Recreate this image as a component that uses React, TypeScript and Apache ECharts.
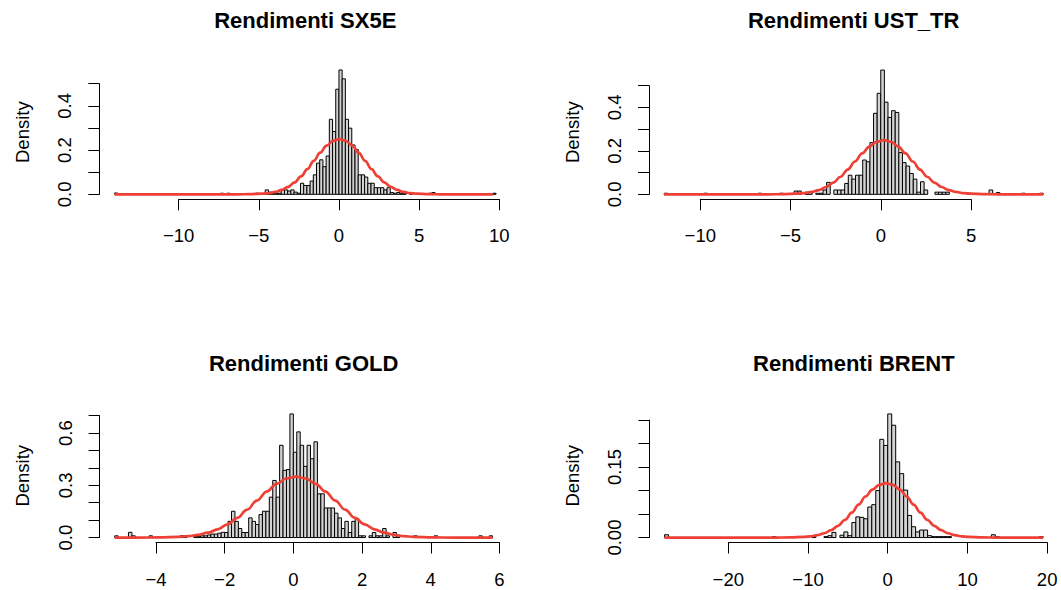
import React, { useEffect, useRef } from 'react';
import * as echarts from 'echarts';

const FONT = '"Liberation Sans", Arial, Helvetica, sans-serif';
const RED = '#EE4035';
const FILL = '#D3D3D3';
const LABEL_SIZE = 18.5;
const TITLE_SIZE = 22;

// ---- Histogram bins: [left break, density] (non-empty bins only) ----
const sx5eHist: [number, number][] = [
  [-14.0, 0.006], [-7.4, 0.005], [-7.0, 0.005], [-5.2, 0.005],
  [-4.6, 0.02], [-4.4, 0.01], [-4.2, 0.005], [-4.0, 0.005], [-3.8, 0.005],
  [-3.6, 0.02], [-3.4, 0.02], [-3.2, 0.015], [-3.0, 0.02], [-2.8, 0.01], [-2.6, 0.005],
  [-2.4, 0.05], [-2.2, 0.04], [-2.0, 0.04], [-1.8, 0.06], [-1.6, 0.088], [-1.4, 0.141],
  [-1.2, 0.156], [-1.0, 0.125], [-0.8, 0.173], [-0.6, 0.339], [-0.4, 0.284], [-0.2, 0.475],
  [0.0, 0.562], [0.2, 0.522], [0.4, 0.339], [0.6, 0.299], [0.8, 0.223], [1.0, 0.203],
  [1.2, 0.088], [1.4, 0.088], [1.6, 0.078], [1.8, 0.05], [2.0, 0.05], [2.2, 0.03],
  [2.4, 0.03], [2.6, 0.03], [2.8, 0.02], [3.0, 0.03], [3.2, 0.008], [3.4, 0.005],
  [3.6, 0.008], [3.8, 0.005], [4.0, 0.005], [4.4, 0.005], [5.6, 0.005], [5.8, 0.008],
  [9.6, 0.005],
];

const ustHist: [number, number][] = [
  [-12.0, 0.005], [-9.8, 0.005], [-6.8, 0.005], [-5.6, 0.005], [-4.8, 0.015], [-4.6, 0.015],
  [-4.2, 0.01], [-4.0, 0.01], [-3.6, 0.005], [-3.4, 0.005], [-3.2, 0.02], [-3.0, 0.055],
  [-2.6, 0.02], [-2.4, 0.02], [-2.2, 0.02], [-2.0, 0.05], [-1.8, 0.088], [-1.6, 0.07],
  [-1.4, 0.088], [-1.2, 0.088], [-1.0, 0.158], [-0.8, 0.15], [-0.6, 0.238], [-0.4, 0.373],
  [-0.2, 0.465], [0.0, 0.572], [0.2, 0.424], [0.4, 0.354], [0.6, 0.385], [0.8, 0.377],
  [1.0, 0.192], [1.2, 0.146], [1.4, 0.13], [1.6, 0.096], [1.8, 0.07], [2.0, 0.01],
  [2.2, 0.058], [2.4, 0.02], [3.0, 0.01], [3.2, 0.01], [3.4, 0.01], [3.6, 0.01],
  [4.8, 0.005], [6.0, 0.02], [6.4, 0.008], [7.8, 0.005], [8.8, 0.005],
];

const goldHist: [number, number][] = [
  [-5.2, 0.01], [-4.8, 0.03], [-4.7, 0.01], [-4.2, 0.01], [-3.3, 0.01], [-3.2, 0.01],
  [-2.9, 0.005], [-2.8, 0.005], [-2.7, 0.01], [-2.6, 0.01], [-2.5, 0.015], [-2.4, 0.02],
  [-2.3, 0.02], [-2.2, 0.025], [-2.1, 0.03], [-2.0, 0.029], [-1.9, 0.093], [-1.8, 0.151],
  [-1.7, 0.093], [-1.6, 0.052], [-1.5, 0.029], [-1.4, 0.029], [-1.3, 0.113], [-1.2, 0.093],
  [-1.1, 0.075], [-1.0, 0.132], [-0.9, 0.151], [-0.8, 0.151], [-0.7, 0.232], [-0.6, 0.328],
  [-0.5, 0.232], [-0.4, 0.53], [-0.3, 0.386], [-0.2, 0.391], [-0.1, 0.71], [0.0, 0.49],
  [0.1, 0.607], [0.2, 0.53], [0.3, 0.409], [0.4, 0.53], [0.5, 0.453], [0.6, 0.55],
  [0.7, 0.251], [0.8, 0.251], [0.9, 0.17], [1.0, 0.17], [1.1, 0.17], [1.2, 0.14],
  [1.3, 0.113], [1.4, 0.052], [1.5, 0.093], [1.6, 0.029], [1.7, 0.093], [1.8, 0.11],
  [1.9, 0.01], [2.0, 0.01], [2.2, 0.01], [2.3, 0.029], [2.4, 0.01], [2.5, 0.01],
  [2.6, 0.052], [2.7, 0.01], [2.9, 0.029], [3.0, 0.01], [3.5, 0.01], [4.1, 0.01],
  [5.4, 0.01], [5.7, 0.01],
];

const brentHist: [number, number][] = [
  [-28.0, 0.006], [-14.5, 0.002], [-12.0, 0.002], [-9.5, 0.002], [-8.0, 0.002], [-7.5, 0.004],
  [-7.0, 0.011], [-6.0, 0.005], [-5.5, 0.012], [-5.0, 0.004], [-4.5, 0.032], [-4.0, 0.044],
  [-3.5, 0.043], [-3.0, 0.04], [-2.5, 0.065], [-2.0, 0.07], [-1.5, 0.1], [-1.0, 0.209],
  [-0.5, 0.196], [0.0, 0.263], [0.5, 0.239], [1.0, 0.161], [1.5, 0.136], [2.0, 0.101],
  [2.5, 0.047], [3.0, 0.023], [3.5, 0.012], [4.0, 0.016], [4.5, 0.016], [5.0, 0.004],
  [5.5, 0.002], [6.0, 0.002], [6.5, 0.002], [7.0, 0.002], [7.5, 0.002], [11.0, 0.002],
  [13.0, 0.006], [13.5, 0.002], [19.0, 0.002],
];

// ---- Normal density curves: [x, density] points ----
const sx5eCurve: [number, number][] = [
  [-14.0, 0], [-6.37, 0.0001], [-5.57, 0.0005], [-4.77, 0.0028], [-4.37, 0.0057], [-3.97, 0.0109],
  [-3.57, 0.0198], [-3.17, 0.0337], [-2.77, 0.0539], [-2.37, 0.0809], [-1.97, 0.1141],
  [-1.57, 0.1512], [-1.17, 0.1882], [-0.77, 0.22], [-0.37, 0.2416], [0.03, 0.2493],
  [0.43, 0.2416], [0.83, 0.22], [1.23, 0.1882], [1.63, 0.1512], [2.03, 0.1141], [2.43, 0.0809],
  [2.83, 0.0539], [3.23, 0.0337], [3.63, 0.0198], [4.03, 0.0109], [4.43, 0.0057], [4.83, 0.0028],
  [5.63, 0.0005], [6.43, 0.0001], [9.6, 0],
];

const ustCurve: [number, number][] = [
  [-12.0, 0], [-6.23, 0.0001], [-5.43, 0.0005], [-4.63, 0.0028], [-4.23, 0.0057], [-3.83, 0.0109],
  [-3.43, 0.0198], [-3.03, 0.0337], [-2.63, 0.0539], [-2.23, 0.0809], [-1.83, 0.1141],
  [-1.43, 0.1512], [-1.03, 0.1882], [-0.63, 0.22], [-0.23, 0.2416], [0.17, 0.2493],
  [0.57, 0.2416], [0.97, 0.22], [1.37, 0.1882], [1.77, 0.1512], [2.17, 0.1141], [2.57, 0.0809],
  [2.97, 0.0539], [3.37, 0.0337], [3.77, 0.0198], [4.17, 0.0109], [4.57, 0.0057], [4.97, 0.0028],
  [5.77, 0.0005], [6.57, 0.0001], [9.0, 0],
];

const goldCurve: [number, number][] = [
  [-5.2, 0], [-4.48, 0.0001], [-3.91, 0.0008], [-3.34, 0.0039], [-3.055, 0.008], [-2.77, 0.0154],
  [-2.485, 0.0278], [-2.2, 0.0474], [-1.915, 0.0757], [-1.63, 0.1136], [-1.345, 0.1602],
  [-1.06, 0.2122], [-0.775, 0.2641], [-0.49, 0.3088], [-0.205, 0.3391], [0.08, 0.3499],
  [0.365, 0.3391], [0.65, 0.3088], [0.935, 0.2641], [1.22, 0.2122], [1.505, 0.1602],
  [1.79, 0.1136], [2.075, 0.0757], [2.36, 0.0474], [2.645, 0.0278], [2.93, 0.0154],
  [3.215, 0.008], [3.5, 0.0039], [4.07, 0.0008], [4.64, 0.0001], [5.8, 0],
];

const brentCurve: [number, number][] = [
  [-28.0, 0], [-14.0, 0.00004], [-12.275, 0.0003], [-10.55, 0.0013], [-9.69, 0.0026], [-8.825, 0.0051],
  [-7.96, 0.0092], [-7.1, 0.0156], [-6.24, 0.025], [-5.375, 0.0375], [-4.51, 0.0529],
  [-3.65, 0.0701], [-2.79, 0.0873], [-1.925, 0.102], [-1.06, 0.112], [-0.2, 0.1156],
  [0.66, 0.112], [1.525, 0.102], [2.39, 0.0873], [3.25, 0.0701], [4.11, 0.0529],
  [4.975, 0.0375], [5.84, 0.025], [6.7, 0.0156], [7.56, 0.0092], [8.425, 0.0051],
  [9.29, 0.0026], [10.15, 0.0013], [11.875, 0.0003], [13.6, 0.00004], [19.5, 0],
];

// ---- Axis ticks and shown labels ----
const sx5eXTicks = [-10, 10, 5];
const ustXTicks = [-10, 5, 5];
const goldXTicks = [-4, 6, 2];
const brentXTicks = [-20, 20, 10];
const sx5eYTicks = [0, 0.5, 0.1];
const ustYTicks = [0, 0.5, 0.1];
const goldYTicks = [0, 0.7, 0.1];
const brentYTicks = [0, 0.25, 0.05];
const sx5eYLabels = ['0.0', '0.2', '0.4'];
const ustYLabels = ['0.0', '0.2', '0.4'];
const goldYLabels = ['0.0', '0.3', '0.6'];
const brentYLabels = ['0.00', '0.15'];

const panels = [
  { title: 'Rendimenti SX5E', hist: sx5eHist, bw: 0.2, curve: sx5eCurve, xTicks: sx5eXTicks, yTicks: sx5eYTicks, yLabels: sx5eYLabels, digits: 1,
    left: 99.3, top: 65.0, width: 412.0, height: 134.3, titleY: 20 },
  { title: 'Rendimenti UST_TR', hist: ustHist, bw: 0.2, curve: ustCurve, xTicks: ustXTicks, yTicks: ustYTicks, yLabels: ustYLabels, digits: 1,
    left: 649.0, top: 65.1, width: 409.4, height: 134.2, titleY: 20 },
  { title: 'Rendimenti GOLD', hist: goldHist, bw: 0.1, curve: goldCurve, xTicks: goldXTicks, yTicks: goldYTicks, yLabels: goldYLabels, digits: 1,
    left: 99.6, top: 409.0, width: 408.1, height: 133.5, titleY: 363 },
  { title: 'Rendimenti BRENT', hist: brentHist, bw: 0.5, curve: brentCurve, xTicks: brentXTicks, yTicks: brentYTicks, yLabels: brentYLabels, digits: 2,
    left: 649.4, top: 409.0, width: 408.9, height: 133.5, titleY: 363 },
];

const minus = (v: number) => String(v).replace('-', '\u2212');

function buildOption() {
  const grid: any[] = [];
  const xAxis: any[] = [];
  const yAxis: any[] = [];
  const series: any[] = [];
  const graphic: any[] = [];

  panels.forEach((p) => {
    const lo = p.hist[0][0];
    const hi = p.hist[p.hist.length - 1][0] + p.bw;
    const xMin = lo - 0.04 * (hi - lo);
    const xMax = hi + 0.04 * (hi - lo);
    const maxD = Math.max(...p.hist.map((h) => h[1]));
    const yMin = -0.04 * maxD;
    const yMax = 1.04 * maxD;
    const xPx = (v: number) => p.left + ((v - xMin) / (xMax - xMin)) * p.width;
    const yPx = (v: number) => p.top + ((yMax - v) / (yMax - yMin)) * p.height;

    // main plotting grid
    const g = grid.length;
    grid.push({ left: p.left, top: p.top, width: p.width, height: p.height });
    xAxis.push({ type: 'value', gridIndex: g, min: xMin, max: xMax, show: false });
    yAxis.push({ type: 'value', gridIndex: g, min: yMin, max: yMax, show: false });
    series.push({
      type: 'custom',
      xAxisIndex: g,
      yAxisIndex: g,
      z: 2,
      silent: true,
      data: p.hist.map(([b, d]) => [b, b + p.bw, d]),
      encode: { x: [0, 1], y: 2 },
      renderItem: (params: any, api: any) => {
        const a = api.coord([api.value(0), 0]);
        const b = api.coord([api.value(1), api.value(2)]);
        return {
          type: 'rect',
          shape: { x: a[0], y: b[1], width: b[0] - a[0], height: a[1] - b[1] },
          style: { fill: FILL, stroke: '#000', lineWidth: 1 },
        };
      },
    });
    series.push({
      type: 'line',
      xAxisIndex: g,
      yAxisIndex: g,
      z: 3,
      silent: true,
      data: p.curve,
      showSymbol: false,
      smooth: 0.4,
      smoothMonotone: 'x',
      lineStyle: { color: RED, width: 2.7 },
    });

    // x axis (drawn only between first and last tick, like R)
    const [xt0, xt1, xts] = p.xTicks;
    const gx = grid.length;
    grid.push({ left: xPx(xt0), top: p.top, width: xPx(xt1) - xPx(xt0), height: p.height });
    xAxis.push({
      type: 'value', gridIndex: gx, min: xt0, max: xt1, interval: xts, position: 'bottom',
      axisLine: { show: true, lineStyle: { color: '#000', width: 1 } },
      axisTick: { show: true, length: 11, inside: false, lineStyle: { color: '#000', width: 1 } },
      axisLabel: { show: true, color: '#000', fontSize: LABEL_SIZE, fontFamily: FONT, margin: 27,
        showMinLabel: true, showMaxLabel: true, formatter: (v: number) => minus(v) },
      splitLine: { show: false },
    });
    yAxis.push({ type: 'value', gridIndex: gx, min: 0, max: 1, show: false });

    // y axis
    const [yt0, yt1, yts] = p.yTicks;
    const gy = grid.length;
    grid.push({ left: p.left, top: yPx(yt1), width: p.width, height: yPx(yt0) - yPx(yt1) });
    xAxis.push({ type: 'value', gridIndex: gy, min: 0, max: 1, show: false });
    yAxis.push({
      type: 'value', gridIndex: gy, min: yt0, max: yt1, interval: yts, position: 'left',
      axisLine: { show: true, lineStyle: { color: '#000', width: 1 } },
      axisTick: { show: true, length: 11, inside: false, lineStyle: { color: '#000', width: 1 } },
      axisLabel: { show: true, color: '#000', fontSize: LABEL_SIZE, fontFamily: FONT, margin: 25, rotate: 90,
        showMinLabel: true, showMaxLabel: true,
        formatter: (v: number) => {
          const s = v.toFixed(p.digits);
          return p.yLabels.indexOf(s) >= 0 ? s : '';
        } },
      splitLine: { show: false },
    });

    graphic.push({
      type: 'text', x: p.left + p.width / 2, y: p.titleY,
      style: { text: p.title, fill: '#000', font: `bold ${TITLE_SIZE}px ${FONT}`, textAlign: 'center', textVerticalAlign: 'middle' },
    });
    graphic.push({
      type: 'text', x: p.left - 77, y: p.top + p.height / 2, rotation: Math.PI / 2,
      style: { text: 'Density', fill: '#000', font: `${LABEL_SIZE}px ${FONT}`, textAlign: 'center', textVerticalAlign: 'middle' },
    });
  });

  return { animation: false, backgroundColor: '#fff', grid, xAxis, yAxis, series, graphic };
}

export default function App() {
  const ref = useRef<HTMLDivElement>(null);
  useEffect(() => {
    if (!ref.current) return;
    const chart = echarts.init(ref.current, undefined, { renderer: 'svg' });
    chart.setOption(buildOption() as any);
    return () => chart.dispose();
  }, []);
  return <div ref={ref} style={{ position: 'absolute', left: 0, top: 0, width: 1061, height: 590 }} />;
}
